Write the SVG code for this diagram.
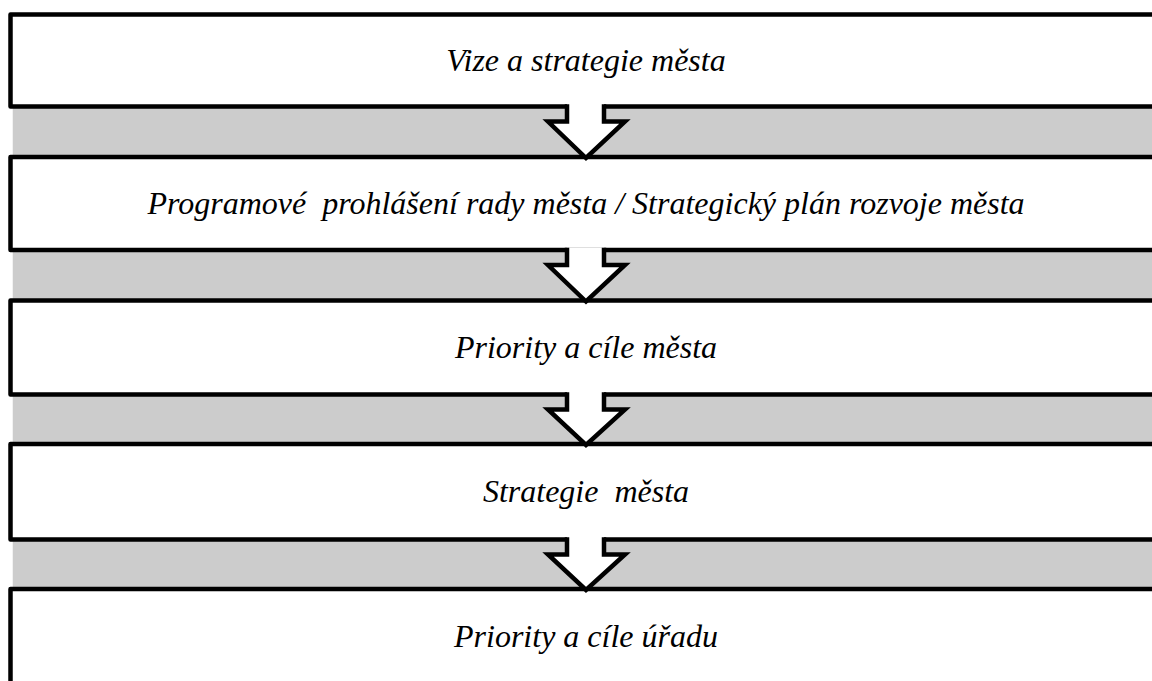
<svg xmlns="http://www.w3.org/2000/svg" width="1152" height="681" viewBox="0 0 1152 681">
<style>
.band{fill:#cccccc;stroke:none}
.box{fill:#ffffff;stroke:#000000;stroke-width:4.5;stroke-linejoin:round}
.afill{fill:#ffffff;stroke:none}
.aline{fill:none;stroke:#000000;stroke-width:4.5;stroke-linejoin:miter}
.lbl{font-family:'Liberation Serif','Times New Roman',serif;font-style:italic;font-size:32px;fill:#000000;text-anchor:middle}
</style>
<rect width="1152" height="681" fill="#ffffff"/>
<g id="bands">
<rect class="band" x="12.75" y="106" width="1150" height="52"/>
<rect class="band" x="12.75" y="250" width="1150" height="52"/>
<rect class="band" x="12.75" y="394" width="1150" height="52"/>
<rect class="band" x="12.75" y="539" width="1150" height="52"/>
</g>
<g id="node1"><rect class="box" x="10.5" y="14.5" width="1160" height="92"/><text class="lbl" x="586" y="71">Vize a strategie města</text></g>
<g id="node2"><rect class="box" x="10.5" y="157" width="1160" height="93"/><text class="lbl" x="586" y="213.5" xml:space="preserve">Programové  prohlášení rady města / Strategický plán rozvoje města</text></g>
<g id="node3"><rect class="box" x="10.5" y="300.5" width="1160" height="94"/><text class="lbl" x="586" y="358">Priority a cíle města</text></g>
<g id="node4"><rect class="box" x="10.5" y="444" width="1160" height="95.5"/><text class="lbl" x="586" y="502" xml:space="preserve">Strategie  města</text></g>
<g id="node5"><rect class="box" x="10.5" y="589" width="1160" height="120"/><text class="lbl" x="586" y="646.5">Priority a cíle úřadu</text></g>
<g id="connectors">
<polygon class="afill" points="567,104 567,121.5 548,121.5 586,158 625,121.5 604,121.5 604,104"/>
<polyline class="aline" points="567,104.3 567,121.5 548,121.5 586,158 625,121.5 604,121.5 604,104.3"/>
<polygon class="afill" points="567,247.5 567,265 548,265 586,301.5 625,265 604,265 604,247.5"/>
<polyline class="aline" points="567,247.8 567,265 548,265 586,301.5 625,265 604,265 604,247.8"/>
<polygon class="afill" points="567,392 567,409.5 548,409.5 586,445 625,409.5 604,409.5 604,392"/>
<polyline class="aline" points="567,392.3 567,409.5 548,409.5 586,445 625,409.5 604,409.5 604,392.3"/>
<polygon class="afill" points="567,537 567,554.5 548,554.5 586,590 625,554.5 604,554.5 604,537"/>
<polyline class="aline" points="567,537.3 567,554.5 548,554.5 586,590 625,554.5 604,554.5 604,537.3"/>
</g>
</svg>
